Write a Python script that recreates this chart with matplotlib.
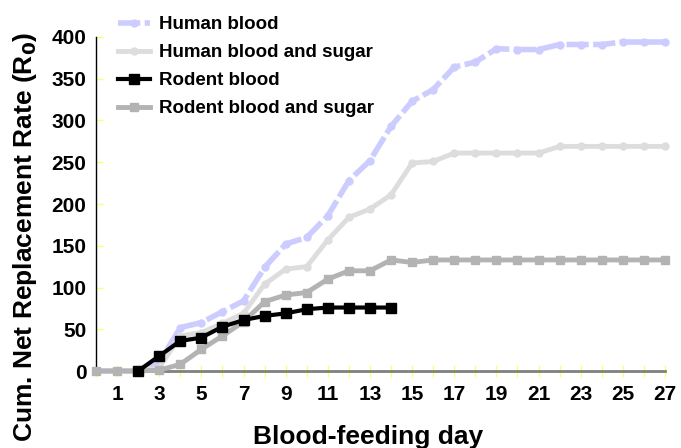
import numpy as np
import matplotlib
matplotlib.use("Agg")
import matplotlib.pyplot as plt

plt.rcParams['font.family'] = ['Liberation Sans', 'DejaVu Sans']
plt.rcParams['font.weight'] = 'bold'

days = list(range(0, 28))
human_blood = [0, 0, 0, 10, 52, 58, 71, 84, 124, 152, 160, 186, 228, 252, 293,
               323, 337, 364, 370, 386, 385, 385, 391, 391, 391, 394, 394, 394]
human_blood_sugar = [0, 0, 0, 4, 42, 46, 57, 69, 104, 122, 125, 157, 184, 194, 211,
                     249, 251, 261, 261, 261, 261, 261, 269, 269, 269, 269, 269, 269]
rodent_days = list(range(2, 15))
rodent_blood = [0, 18, 36, 40, 53, 61, 66, 69, 74, 76, 76, 76, 76]
rodent_blood_sugar = [0, 0, 0, 1, 8, 26, 42, 59, 83, 91, 94, 110, 120, 120, 133,
                      130, 133, 133, 133, 133, 133, 133, 133, 133, 133, 133, 133, 133]

labels = ["Human blood", "Human blood and sugar", "Rodent blood", "Rodent blood and sugar"]
xtick_labels = [str(d) for d in range(1, 28, 2)]
yticks = list(range(0, 401, 50))

fig = plt.figure(figsize=(6.81, 4.48), dpi=100)
ax = fig.add_axes([96/681, 1-371/448, (665-96)/681, (371-37)/448])

ax.plot(days, human_blood, color='#ccccff', lw=4, ls=(0, (4, 0.8)), marker='o', ms=5,
        label=labels[0], zorder=3, clip_on=False)
ax.plot(days, human_blood_sugar, color='#dddddd', lw=3.5, marker='o', ms=5,
        label=labels[1], zorder=3, clip_on=False)
ax.plot(rodent_days, rodent_blood, color='black', lw=3, marker='s', ms=6.5,
        label=labels[2], zorder=5, clip_on=False)
ax.plot(days, rodent_blood_sugar, color='#b3b3b3', lw=3.5, marker='s', ms=6,
        label=labels[3], zorder=4, clip_on=False)

ax.set_xlim(0, 27)
ax.set_ylim(0, 400)
ax.set_xticks(list(range(1, 28, 2)))
ax.set_xticklabels(xtick_labels)
ax.set_xticks(list(range(0, 28, 2)), minor=True)
ax.set_yticks(yticks)
ax.set_yticklabels([str(v) for v in yticks])

ax.tick_params(axis='x', which='both', direction='inout', length=8, width=1,
               color='#ffff66', labelsize=15, pad=6)
ax.tick_params(axis='y', which='both', direction='in', length=5, width=1,
               color='#ffff66', labelsize=15, pad=7)

for s in ['top', 'right']:
    ax.spines[s].set_visible(False)
ax.spines['bottom'].set_color('#808080')
ax.spines['bottom'].set_linewidth(2)
ax.spines['left'].set_color('black')
ax.spines['left'].set_linewidth(1)

ax.set_xlabel("Blood-feeding day", fontsize=19, fontweight='bold')
ax.set_ylabel("Cum. Net Replacement Rate (R$\\mathbf{_0}$)", fontsize=19,
              fontweight='bold')
ax.xaxis.set_label_coords((368.5-96)/569, (371-425)/334)
ax.yaxis.set_label_coords((39-96)/569, (371-237)/334)

leg = fig.legend(loc='upper left', bbox_to_anchor=(118/681, 1-16/448), frameon=False,
                 fontsize=13.5, handlelength=1.7, handletextpad=0.5, labelspacing=0.58,
                 borderpad=0, borderaxespad=0)
for t in leg.get_texts():
    t.set_fontweight('bold')

fig.savefig("out.png", dpi=100)
